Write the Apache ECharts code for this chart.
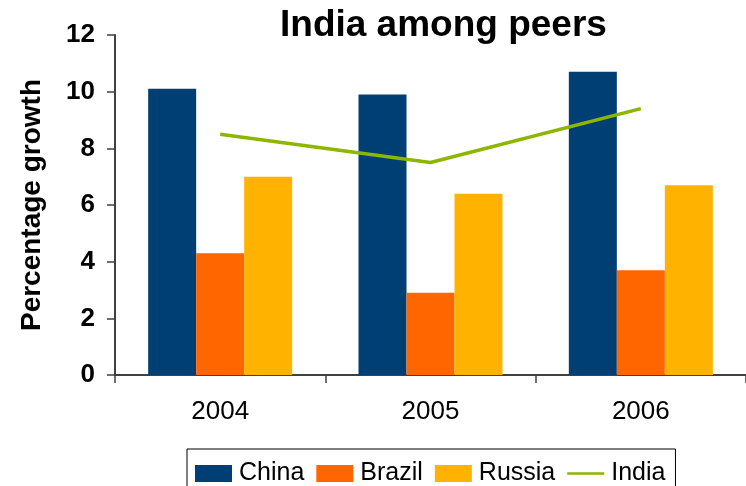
<!DOCTYPE html>
<html>
<head>
<meta charset="utf-8">
<script src="https://cdn.jsdelivr.net/npm/echarts@6/dist/echarts.min.js"></script>
<style>html,body{margin:0;padding:0;background:#fff;}#c{width:746px;height:486px;}</style>
</head>
<body>
<div id="c"></div>
<script>
var categories = ['2004', '2005', '2006'];
var china = [10.1, 9.9, 10.7];
var brazil = [4.3, 2.9, 3.7];
var russia = [7.0, 6.4, 6.7];
var india = [8.5, 7.5, 9.4];
var yTicks = [0, 2, 4, 6, 8, 10, 12];

var FONT = '"Liberation Sans", Arial, sans-serif';
var lineIcon = 'path://M0,0L0.01,0M0,7L48,7L48,10L0,10ZM0,17L0.01,17';
var chart = echarts.init(document.getElementById('c'), null, {renderer: 'canvas'});
chart.setOption({
  animation: false,
  backgroundColor: '#ffffff',
  title: {
    text: 'India among peers',
    left: 275,
    top: 2,
    textStyle: {fontFamily: FONT, fontSize: 37, fontWeight: 'bold', color: '#000'}
  },
  legend: {
    data: [
      {name: 'China', icon: 'rect'},
      {name: 'Brazil', icon: 'rect'},
      {name: 'Russia', icon: 'rect'},
      {name: 'India', icon: lineIcon}
    ],
    left: 187,
    top: 449,
    orient: 'horizontal',
    borderColor: '#000',
    borderWidth: 1,
    padding: [12, 10, 14, 8],
    itemWidth: 37,
    itemHeight: 17,
    itemGap: 12,
    textStyle: {fontFamily: FONT, fontSize: 25, color: '#000', padding: [0, 0, 0, 2]}
  },
  grid: {left: 115, right: 0, top: 35, bottom: 111, containLabel: false},
  xAxis: {
    type: 'category',
    data: categories,
    boundaryGap: true,
    axisLine: {lineStyle: {color: '#404040', width: 2}},
    axisTick: {show: true, length: 8, alignWithLabel: false, lineStyle: {color: '#404040', width: 1.5}},
    axisLabel: {fontFamily: FONT, fontSize: 26, color: '#000', margin: 24},
    splitLine: {show: false}
  },
  yAxis: {
    type: 'value',
    min: yTicks[0],
    max: yTicks[yTicks.length - 1],
    interval: 2,
    name: 'Percentage growth',
    nameLocation: 'middle',
    nameGap: 69,
    nameTextStyle: {fontFamily: FONT, fontSize: 28, fontWeight: 'bold', color: '#000'},
    axisLine: {show: true, lineStyle: {color: '#404040', width: 2}},
    axisTick: {show: true, length: 8, lineStyle: {color: '#404040', width: 1.5}},
    axisLabel: {fontFamily: FONT, fontSize: 26, fontWeight: 'bold', color: '#000', margin: 20},
    splitLine: {show: false}
  },
  series: [
    {name: 'China', type: 'bar', data: china, barWidth: 48, barGap: '0%', itemStyle: {color: '#003F73'}},
    {name: 'Brazil', type: 'bar', data: brazil, barWidth: 48, barGap: '0%', itemStyle: {color: '#FF6600'}},
    {name: 'Russia', type: 'bar', data: russia, barWidth: 48, barGap: '0%', itemStyle: {color: '#FFB300'}},
    {name: 'India', type: 'line', data: india, symbol: 'none', showSymbol: false,
     lineStyle: {color: '#8CB600', width: 3.5}, itemStyle: {color: '#8CB600'}}
  ]
});
</script>
</body>
</html>
